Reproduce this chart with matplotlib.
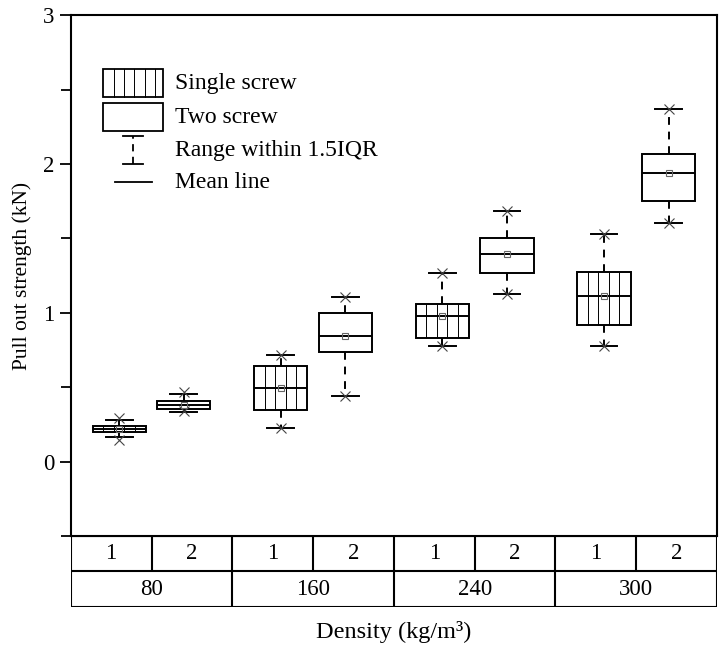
import numpy as np
import matplotlib
matplotlib.use('Agg')
import matplotlib.pyplot as plt
from matplotlib.ticker import MultipleLocator

plt.rcParams['font.family'] = ['Liberation Serif', 'DejaVu Serif']

densities = ['80', '160', '240', '300']
screws = ['1', '2']

# single screw boxes
single_q1 = [0.200, 0.344, 0.830, 0.915]
single_q3 = [0.237, 0.644, 1.062, 1.277]
single_med = [0.218, 0.497, 0.975, 1.110]
single_mean = [0.218, 0.497, 0.980, 1.114]
single_lo = [0.163, 0.224, 0.776, 0.779]
single_hi = [0.277, 0.716, 1.266, 1.528]
single_min = [0.142, 0.224, 0.776, 0.779]
single_max = [0.295, 0.716, 1.266, 1.528]

# two screw boxes
two_q1 = [0.356, 0.734, 1.270, 1.754]
two_q3 = [0.405, 0.998, 1.503, 2.067]
two_med = [0.380, 0.843, 1.394, 1.940]
two_mean = [0.380, 0.843, 1.396, 1.940]
two_lo = [0.334, 0.438, 1.125, 1.606]
two_hi = [0.454, 1.105, 1.687, 2.369]
two_min = [0.338, 0.438, 1.125, 1.606]
two_max = [0.470, 1.105, 1.687, 2.369]

offset = 0.2
box_w = 0.33
cap_w = 0.165
hatch_step = 0.065


def make_stats(q1, q3, med, mean, lo, hi):
    return [dict(q1=a, q3=b, med=c, mean=d, whislo=e, whishi=f, fliers=[])
            for a, b, c, d, e, f in zip(q1, q3, med, mean, lo, hi)]


fig = plt.figure(figsize=(7.23, 6.51), dpi=100)
ax = fig.add_axes([0.0978, 0.1767, 0.8940, 0.8000])

groups = np.arange(len(densities))
pos1 = groups - offset
pos2 = groups + offset

box_kw = dict(widths=box_w, capwidths=cap_w, showmeans=True, patch_artist=True,
              boxprops=dict(facecolor='none', edgecolor='black', linewidth=1.4),
              medianprops=dict(color='black', linewidth=1.4),
              whiskerprops=dict(color='black', linewidth=1.4, linestyle=(0, (4, 3.5))),
              capprops=dict(color='black', linewidth=1.4),
              meanprops=dict(marker='s', markersize=5, markerfacecolor='none',
                             markeredgecolor='#666666', markeredgewidth=0.8))

ax.bxp(make_stats(single_q1, single_q3, single_med, single_mean, single_lo, single_hi),
       positions=pos1, **box_kw)
ax.bxp(make_stats(two_q1, two_q3, two_med, two_mean, two_lo, two_hi),
       positions=pos2, **box_kw)

# vertical hatching for the single screw boxes
for p, a, b in zip(pos1, single_q1, single_q3):
    xs = np.arange(p - box_w / 2 + hatch_step, p + box_w / 2 - 0.01, hatch_step)
    ax.vlines(xs, a, b, color='black', linewidth=0.7, zorder=1)

# 1% / 99% markers
mk = dict(linestyle='none', marker='x', markersize=7.5, color='#444444', markeredgewidth=0.8)
ax.plot(pos1, single_min, **mk)
ax.plot(pos1, single_max, **mk)
ax.plot(pos2, two_min, **mk)
ax.plot(pos2, two_max, **mk)

ax.set_xlim(-0.5, 3.5)
ax.set_ylim(-0.5, 3)
ax.set_xticks([])
ax.yaxis.set_major_locator(MultipleLocator(1))
ax.yaxis.set_minor_locator(MultipleLocator(0.5))
ax.tick_params(axis='y', which='major', length=8, width=1.3, labelsize=16.5, direction='out')
ax.tick_params(axis='y', which='minor', length=7, width=1.3, direction='out')
for s in ax.spines.values():
    s.set_linewidth(1.5)
ax.set_ylabel('Pull out strength (kN)', fontsize=15.5, labelpad=8)

# legend drawn by hand
tr = ax.transAxes
lx0, lx1 = 0.0505, 0.1424
ax.add_patch(plt.Rectangle((lx0, 0.842), lx1 - lx0, 0.055, transform=tr,
                           facecolor='none', edgecolor='black', linewidth=1.3))
for hx in np.arange(lx0 + 0.016, lx1 - 0.005, 0.016):
    ax.plot([hx, hx], [0.842, 0.897], transform=tr, color='black', linewidth=0.7)
ax.add_patch(plt.Rectangle((lx0, 0.778), lx1 - lx0, 0.054, transform=tr,
                           facecolor='none', edgecolor='black', linewidth=1.3))
rx = 0.0968
ax.plot([rx, rx], [0.715, 0.768], transform=tr, color='black', linewidth=1.3,
        linestyle=(0, (4, 3)))
ax.plot([rx - 0.0154, rx + 0.0154], [0.768, 0.768], transform=tr, color='black', linewidth=1.3)
ax.plot([rx - 0.0154, rx + 0.0154], [0.715, 0.715], transform=tr, color='black', linewidth=1.3)
ax.plot([0.068, 0.126], [0.679, 0.679], transform=tr, color='black', linewidth=1.3)
leg_labels = ['Single screw', 'Two screw', 'Range within 1.5IQR', 'Mean line']
leg_y = [0.869, 0.804, 0.741, 0.679]
for t, y in zip(leg_labels, leg_y):
    ax.text(0.162, y, t, transform=tr, fontsize=17, va='center', ha='left')

# category table under the axes
tax = fig.add_axes([0.0978, 0.0676, 0.8940, 0.1091], sharex=ax)
tax.set_ylim(0, 2)
tax.axis('off')
lw = 1.5
tax.hlines([0, 1, 2], -0.5, 3.5, color='black', linewidth=lw)
tax.vlines(np.arange(-0.5, 4.0, 1.0), 0, 2, color='black', linewidth=lw)
tax.vlines(groups, 1, 2, color='black', linewidth=lw)
for g, d in zip(groups, densities):
    tax.text(g, 0.5, d, ha='center', va='center', fontsize=16.5)
    for k, s in enumerate(screws):
        tax.text(g - 0.25 + 0.5 * k, 1.5, s, ha='center', va='center', fontsize=16.5)

fig.text(0.5446, 0.029, 'Density (kg/m³)', ha='center', va='center', fontsize=17.5)

fig.savefig('out.png', dpi=100)
